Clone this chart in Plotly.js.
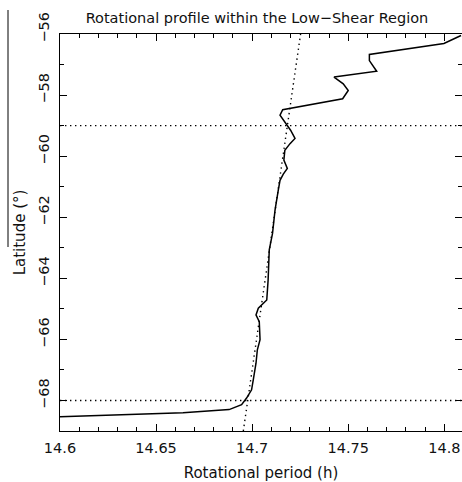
<!DOCTYPE html>
<html>
<head>
<meta charset="utf-8">
<script src="https://cdn.plot.ly/plotly-3.0.1.min.js"></script>
<style>
html,body{margin:0;padding:0;background:#fff;}
#chart{width:462px;height:482px;}
</style>
</head>
<body>
<div id="chart"></div>
<script>
// Measured rotational profile
var period = [14.6000, 14.6380, 14.6640, 14.6880, 14.6945, 14.6971, 14.6997, 14.7006, 14.7020, 14.7027,
              14.7041, 14.7037, 14.7020, 14.7032, 14.7076, 14.7083, 14.7089, 14.7106, 14.7119, 14.7136,
              14.7145, 14.7162, 14.7183, 14.7165, 14.7170, 14.7197, 14.7223, 14.7200, 14.7176, 14.7145,
              14.7159, 14.7471, 14.7500, 14.7474, 14.7426, 14.7648, 14.7610, 14.7610, 14.7998, 14.8087];
var latitude = [-68.53, -68.45, -68.40, -68.30, -68.14, -67.92, -67.65, -67.32, -66.78, -66.34,
                -66.01, -65.42, -65.20, -64.98, -64.71, -64.06, -63.07, -62.53, -61.77, -61.11,
                -60.79, -60.59, -60.40, -60.13, -59.81, -59.59, -59.42, -59.15, -58.94, -58.66,
                -58.48, -58.12, -57.85, -57.63, -57.41, -57.22, -56.87, -56.67, -56.31, -56.05];
// Linear fit (dotted)
var fitPeriod = [14.6954, 14.7252];
var fitLat = [-69, -56];
// Low-shear region boundaries
var boundaryLat = [-59, -68];
var periodSpan = [14.6, 14.81];

var xTickVals = [14.6, 14.65, 14.7, 14.75, 14.8];
var xTickText = ['14.6', '14.65', '14.7', '14.75', '14.8'];
var yTickVals = [-68, -66, -64, -62, -60, -58, -56];
var yTickText = ['\u00a0\u00a0\u221268', '\u00a0\u00a0\u221266', '\u00a0\u00a0\u221264', '\u00a0\u00a0\u221262',
                 '\u00a0\u00a0\u221260', '\u00a0\u00a0\u221258', '\u00a0\u00a0\u221256'];

var dotted = {color: '#000', width: 1.4, dash: '1.4px,3.6px'};
var traces = [];
boundaryLat.forEach(function(b){
  traces.push({x: periodSpan, y: [b, b], mode: 'lines', line: dotted, hoverinfo: 'skip'});
});
traces.push({x: fitPeriod, y: fitLat, mode: 'lines', line: dotted, hoverinfo: 'skip'});
traces.push({x: period, y: latitude, mode: 'lines', line: {color: '#000', width: 1.5}});

var tickFont = {family: 'DejaVu Sans, sans-serif', size: 14.5, color: '#111'};
var titleFont = {family: 'DejaVu Sans, sans-serif', size: 15, color: '#111'};
var layout = {
  width: 462, height: 482,
  margin: {l: 60, r: 0, t: 34, b: 51},
  showlegend: false,
  paper_bgcolor: '#fff', plot_bgcolor: '#fff',
  font: tickFont,
  title: {text: 'Rotational profile within the Low\u2212Shear Region', font: {family: 'DejaVu Sans, sans-serif', size: 14.5, color: '#111'},
          xref: 'paper', x: 0.49, xanchor: 'center', yref: 'container', y: 0.962, yanchor: 'middle'},
  xaxis: {
    range: [14.6, 14.8092], showgrid: false, zeroline: false,
    showline: true, linecolor: '#000', linewidth: 1, mirror: 'ticks',
    ticks: 'inside', ticklen: 7, tickcolor: '#000', tickwidth: 1,
    tickvals: xTickVals, ticktext: xTickText, tickfont: tickFont, ticklabelstandoff: 4,
    minor: {dtick: 0.01, tick0: 14.6, ticks: 'inside', ticklen: 4, tickcolor: '#000', showgrid: false},
    title: {text: 'Rotational period (h)', font: titleFont, standoff: 18}
  },
  yaxis: {
    range: [-69, -56], showgrid: false, zeroline: false,
    showline: true, linecolor: '#000', linewidth: 1, mirror: 'ticks',
    ticks: 'inside', ticklen: 7, tickcolor: '#000', tickwidth: 1,
    tickvals: yTickVals, ticktext: yTickText, tickfont: tickFont, tickangle: -90, ticklabelstandoff: 4,
    minor: {dtick: 1, tick0: -56, ticks: 'inside', ticklen: 4, tickcolor: '#000', showgrid: false},
    title: {text: 'Latitude (\u00b0)', font: titleFont, standoff: 6}
  },
  shapes: [{type: 'line', xref: 'paper', yref: 'paper',
            x0: (8 - 60) / 402, x1: (8 - 60) / 402,
            y0: (431 - 10) / 397, y1: (431 - 247) / 397,
            line: {color: '#000', width: 1}}]
};
Plotly.newPlot('chart', traces, layout, {displayModeBar: false, staticPlot: true});
</script>
</body>
</html>
